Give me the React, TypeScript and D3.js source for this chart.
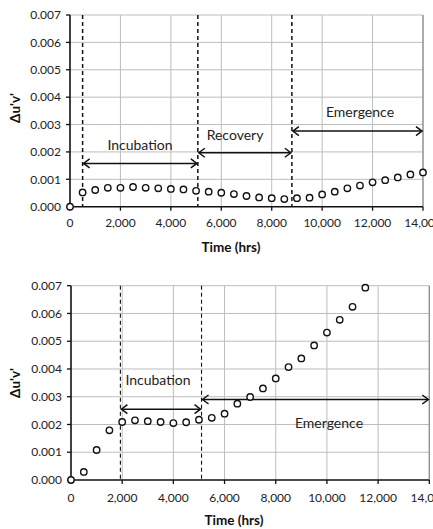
import React from "react";
import * as d3 from "d3";

// ---- data ----
const topTimes = [0, 500, 1000, 1500, 2000, 2500, 3000, 3500, 4000, 4500, 5000, 5500, 6000, 6500, 7000, 7500, 8000, 8500, 9000, 9500, 10000, 10500, 11000, 11500, 12000, 12500, 13000, 13500, 14000];
const topValues = [0.0, 0.00052, 0.00061, 0.00069, 0.00069, 0.00072, 0.00069, 0.00067, 0.00065, 0.00063, 0.00058, 0.00055, 0.00051, 0.00046, 0.00039, 0.00034, 0.00031, 0.00028, 0.00031, 0.00033, 0.00045, 0.00055, 0.00067, 0.00077, 0.00089, 0.00097, 0.00107, 0.00118, 0.00125];
const topPhaseBounds = [500, 5070, 8800];
const topPhases = ["Incubation", "Recovery", "Emergence"];
const topPhaseStart = [500, 5070, 8800];
const topPhaseEnd = [5070, 8800, 14000];
const topArrowY = [0.00158, 0.00197, 0.00276];
const topLabelY = [0.00225, 0.00263, 0.00345];

const botTimes = [0, 500, 1000, 1500, 2000, 2500, 3000, 3500, 4000, 4500, 5000, 5500, 6000, 6500, 7000, 7500, 8000, 8500, 9000, 9500, 10000, 10500, 11000, 11500];
const botValues = [0.0, 0.00029, 0.00108, 0.00179, 0.00209, 0.00215, 0.00212, 0.00209, 0.00205, 0.00208, 0.00217, 0.00224, 0.00239, 0.00275, 0.00299, 0.0033, 0.00366, 0.00407, 0.00438, 0.00485, 0.00531, 0.00577, 0.00624, 0.00693];
const botPhaseBounds = [1930, 5100];
const botPhases = ["Incubation", "Emergence"];
const botPhaseStart = [1930, 5100];
const botPhaseEnd = [5100, 14000];
const botArrowY = [0.00255, 0.0029];
const botLabelY = [0.0036, 0.00205];

const xTicks = [0, 2000, 4000, 6000, 8000, 10000, 12000, 14000];
const yTicks = [0, 0.001, 0.002, 0.003, 0.004, 0.005, 0.006, 0.007];
const xTitle = "Time (hrs)";
const yTitle = "\u0394u'v'";

const FONT = "Lato, 'Open Sans', sans-serif";

type PanelProps = {
  times: number[];
  values: number[];
  bounds: number[];
  phases: string[];
  starts: number[];
  ends: number[];
  arrowY: number[];
  labelY: number[];
  labelX: number[];
  x0: number;
  x1: number;
  yBottom: number;
  yTop: number;
  dashWidth: number;
  xLabelY: number;
  titleY: number;
  titleX: number;
  yTitleY: number;
};

function Arrow({ xa, xb, y }: { xa: number; xb: number; y: number }) {
  const h = 4.5;
  const l = 7;
  return (
    <g stroke="#111" strokeWidth={1.5} fill="none">
      <line x1={xa + 1} x2={xb - 1} y1={y} y2={y} />
      <path d={`M${xa + l},${y - h} L${xa + 1},${y} L${xa + l},${y + h}`} />
      <path d={`M${xb - l},${y - h} L${xb - 1},${y} L${xb - l},${y + h}`} />
    </g>
  );
}

function Panel(p: PanelProps) {
  const x = d3.scaleLinear().domain([0, 14000]).range([p.x0, p.x1]);
  const y = d3.scaleLinear().domain([0, 0.007]).range([p.yBottom, p.yTop]);
  const fmtX = d3.format(",");
  const fmtY = d3.format(".3f");
  return (
    <g>
      {/* grid */}
      {xTicks.slice(1).map((t) => (
        <line key={"gx" + t} x1={x(t)} x2={x(t)} y1={y(0.007)} y2={y(0)} stroke="#bdbdbd" strokeWidth={1} />
      ))}
      {yTicks.slice(1).map((t) => (
        <line key={"gy" + t} x1={x(0)} x2={x(14000)} y1={y(t)} y2={y(t)} stroke="#bdbdbd" strokeWidth={1} />
      ))}
      <line x1={x(14000)} x2={x(14000)} y1={y(0.007)} y2={y(0)} stroke="#8a8a8a" strokeWidth={1.2} />
      {/* axes */}
      <line x1={x(0)} x2={x(14000)} y1={y(0)} y2={y(0)} stroke="#111" strokeWidth={1.6} />
      <line x1={x(0)} x2={x(0)} y1={y(0)} y2={y(0.007)} stroke="#111" strokeWidth={1.6} />
      {xTicks.map((t) => (
        <g key={"tx" + t}>
          <line x1={x(t)} x2={x(t)} y1={y(0)} y2={y(0) + 4} stroke="#111" strokeWidth={1.3} />
          <text x={x(t)} y={p.xLabelY} textAnchor="middle" fontSize={12} fontFamily={FONT} fill="#222">
            {fmtX(t)}
          </text>
        </g>
      ))}
      {yTicks.map((t) => (
        <g key={"ty" + t}>
          <line x1={x(0) - 4} x2={x(0)} y1={y(t)} y2={y(t)} stroke="#111" strokeWidth={1.3} />
          <text x={x(0) - 9} y={y(t)} dy="0.35em" textAnchor="end" fontSize={12} fontFamily={FONT} fill="#222">
            {fmtY(t)}
          </text>
        </g>
      ))}
      <text x={p.titleX} y={p.titleY} textAnchor="middle" fontSize={13.5} fontWeight="bold" fontFamily={FONT} fill="#111">
        {xTitle}
      </text>
      <text
        transform={`translate(${15},${p.yTitleY}) rotate(-90)`}
        textAnchor="middle"
        dy="0.35em"
        fontSize={13.5}
        fontWeight="bold"
        fontFamily={FONT}
        fill="#111"
      >
        {yTitle}
      </text>
      {/* phase boundaries */}
      {p.bounds.map((b) => (
        <line key={"b" + b} x1={x(b)} x2={x(b)} y1={y(0.007)} y2={y(0)} stroke="#111" strokeWidth={p.dashWidth} strokeDasharray="4,3" />
      ))}
      {/* arrows */}
      {p.phases.map((name, i) => (
        <g key={name}>
          <Arrow xa={x(p.starts[i])} xb={x(p.ends[i])} y={y(p.arrowY[i])} />
          <text x={p.labelX[i]} y={y(p.labelY[i])} dy="0.35em" textAnchor="middle" fontSize={14} fontFamily={FONT} fill="#222">
            {name}
          </text>
        </g>
      ))}
      {/* points */}
      {p.times.map((t, i) => (
        <circle key={"c" + t} cx={x(t)} cy={y(p.values[i])} r={3.2} fill="#fff" stroke="#111" strokeWidth={1.4} />
      ))}
    </g>
  );
}

export default function App() {
  return (
    <div style={{ position: "fixed", left: 0, top: 0 }}>
      <svg width={433} height={529} style={{ display: "block", background: "#fff" }}>
        <Panel
          times={topTimes}
          values={topValues}
          bounds={topPhaseBounds}
          phases={topPhases}
          starts={topPhaseStart}
          ends={topPhaseEnd}
          arrowY={topArrowY}
          labelY={topLabelY}
          labelX={[140, 235, 360]}
          x0={70}
          x1={423}
          yBottom={206.7}
          yTop={15}
          dashWidth={1.5}
          xLabelY={227}
          titleX={231}
          titleY={252}
          yTitleY={108}
        />
        <Panel
          times={botTimes}
          values={botValues}
          bounds={botPhaseBounds}
          phases={botPhases}
          starts={botPhaseStart}
          ends={botPhaseEnd}
          arrowY={botArrowY}
          labelY={botLabelY}
          labelX={[158, 329]}
          x0={71}
          x1={429.3}
          yBottom={480}
          yTop={285.7}
          dashWidth={1.1}
          xLabelY={502}
          titleX={234}
          titleY={525}
          yTitleY={383}
        />
      </svg>
    </div>
  );
}
